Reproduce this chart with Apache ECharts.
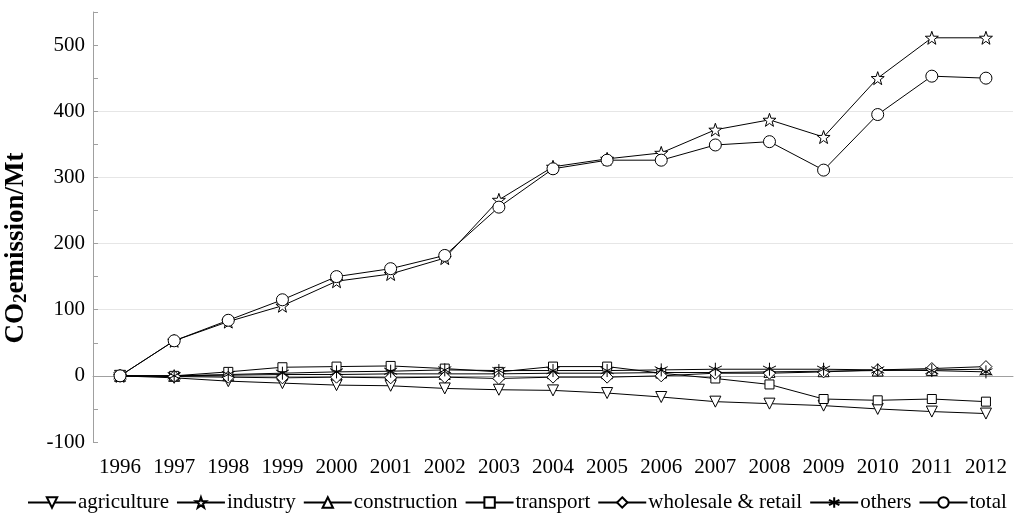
<!DOCTYPE html>
<html>
<head>
<meta charset="utf-8">
<script src="https://cdn.jsdelivr.net/npm/echarts@6/dist/echarts.min.js"></script>
<style>html,body{margin:0;padding:0;background:#fff}#c{width:1024px;height:519px}</style>
</head>
<body>
<div id="c"></div>
<script>
const years = ['1996','1997','1998','1999','2000','2001','2002','2003','2004','2005','2006','2007','2008','2009','2010','2011','2012'];
const agriculture = [0,-3,-8,-11,-14,-15,-19,-21,-22,-26,-32,-39,-42,-45,-50,-54,-57];
const industry = [0,53,82,106,143,154,178,266,316,328,337,372,387,361,450,511,511];
const construction = [0,0,1,2,2,3,3,3,4,4,5,5,6,7,8,9,10];
const transport = [0,0,6,13,14,15,11,6,14,14,4,-4,-13,-35,-37,-35,-39];
const wholesale = [0,-1,-2,-3,-2,-3,-2,-4,-2,-2,0,4,4,6,9,11,14];
const others = [0,0,2,4,6,7,9,8,8,8,9,10,10,10,9,8,6];
const total = [0,53,84,115,150,162,182,255,313,326,326,349,354,311,395,453,450];
const seriesNames = ['agriculture','industry','construction','transport','wholesale & retail','others','total'];

const symDown = 'path://M-5,-4.3L5,-4.3L0,4.3Z';
const symStar = 'path://M0,-10L2.35,-3.24L9.51,-3.09L3.8,1.24L5.88,8.09L0,4L-5.88,8.09L-3.8,1.24L-9.51,-3.09L-2.35,-3.24Z';
const symAst = 'path://M0,-10L0,10M-8.66,-5L8.66,5M-8.66,5L8.66,-5';

const datas = [agriculture, industry, construction, transport, wholesale, others, total];
const symbols = [symDown, symStar, 'triangle', 'rect', 'diamond', symAst, 'circle'];
const sizes = [11, 13, 11, 9, 12, 13, 12];

const font = 'Liberation Serif';
const gridColors = [];
for (let i = 0; i < 14; i++) gridColors.push((i >= 4 && i <= 10 && i % 2 === 0) ? '#e6e6e6' : 'rgba(0,0,0,0)');

const chart = echarts.init(document.getElementById('c'));
chart.setOption({
  animation: false,
  backgroundColor: '#fff',
  textStyle: { fontFamily: font, color: '#000' },
  grid: { left: 93, right: 11, top: 12, bottom: 77, containLabel: false, outerBoundsMode: 'none' },
  legend: {
    data: seriesNames,
    left: 22, top: 487,
    itemGap: 7, itemWidth: 48, itemHeight: 13,
    textStyle: { fontFamily: font, fontSize: 21, color: '#000', padding: [0, 0, 0, -3] }
  },
  xAxis: {
    type: 'category', data: years, boundaryGap: true,
    axisLine: { lineStyle: { color: '#a0a0a0' } },
    axisTick: { inside: true, alignWithLabel: true, length: 5, lineStyle: { color: '#a0a0a0' } },
    axisLabel: { fontFamily: font, fontSize: 21, color: '#000', margin: 15, interval: 0, hideOverlap: false }
  },
  yAxis: {
    type: 'value', min: -100, max: 550, interval: 50,
    name: '{a|CO}{b|2}{a|emission/Mt}',
    nameLocation: 'middle', nameRotate: 90, nameGap: 62,
    nameTextStyle: {
      padding: [0, 42, 0, 0],
      rich: {
        a: { fontFamily: font, fontSize: 27, fontWeight: 'bold', color: '#000' },
        b: { fontFamily: font, fontSize: 19, fontWeight: 'bold', color: '#000', verticalAlign: 'bottom', padding: [10, 0, 0, 0] }
      }
    },
    axisLine: { show: true, lineStyle: { color: '#a0a0a0' } },
    axisTick: { show: true, inside: true, length: 5, lineStyle: { color: '#a0a0a0' } },
    splitLine: { show: true, lineStyle: { color: gridColors, width: 1 } },
    axisLabel: {
      fontFamily: font, fontSize: 21, color: '#000', margin: 8,
      formatter: v => (v % 100 === 0 && v <= 500) ? String(v) : ''
    }
  },
  series: seriesNames.map((n, i) => ({
    name: n, type: 'line', data: datas[i],
    symbol: symbols[i], symbolSize: sizes[i], showAllSymbol: true,
    lineStyle: { color: '#000', width: 1 },
    itemStyle: { color: '#fff', borderColor: '#000', borderWidth: 1 },
    emphasis: { disabled: true }
  }))
});
</script>
</body>
</html>
